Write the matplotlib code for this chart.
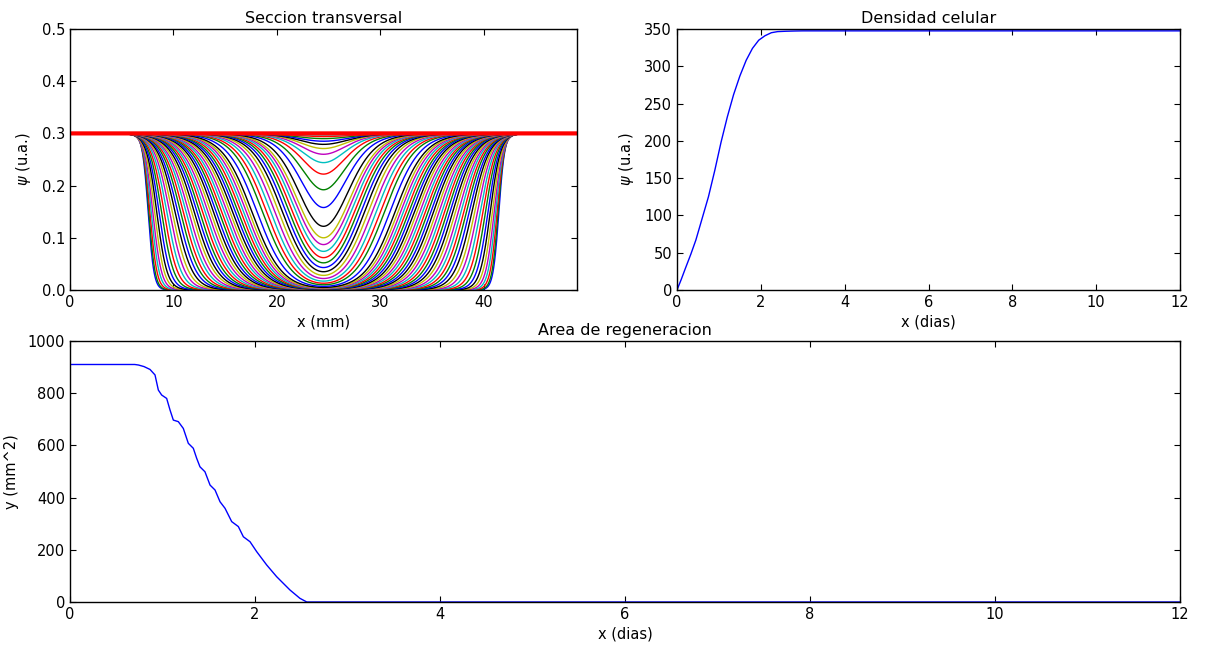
import numpy as np
import matplotlib
matplotlib.use("Agg")
import matplotlib.pyplot as plt

# ---------------- data ----------------
# Panel 1: cross-section profiles psi(x) at successive times
x_max_mm = 49.0
wound_center_mm = 24.5
saturation_level = 0.3
# half-height positions of the left front (mm) while the wound is still open
open_fronts = [7.55, 7.62, 7.72, 7.85, 8.0, 8.18, 8.38, 8.6, 8.84, 9.09, 9.35,
               9.62, 9.88, 10.15, 10.41, 10.68, 10.94, 11.21, 11.47, 11.74, 12.0,
               12.27, 12.53, 12.8, 13.06, 13.33, 13.59, 13.86, 14.12, 14.39, 14.65,
               14.92, 15.18, 15.45, 15.71, 15.98, 16.24, 16.51, 16.77, 17.04, 17.3]
open_widths = [0.28, 0.30, 0.34, 0.38, 0.42, 0.46, 0.50, 0.55, 0.60, 0.65, 0.70,
               0.75, 0.80, 0.85, 0.90, 0.94, 0.98, 1.02, 1.06, 1.10, 1.13,
               1.16, 1.19, 1.22, 1.25, 1.28, 1.30, 1.32, 1.34, 1.36, 1.38,
               1.40, 1.41, 1.42, 1.43, 1.44, 1.45, 1.45, 1.45, 1.45, 1.45]
# minimum value at the wound centre once the two fronts have met
center_minima = [0.005, 0.007, 0.010, 0.013, 0.017, 0.022, 0.028, 0.035, 0.043,
                 0.052, 0.062, 0.074, 0.087, 0.100, 0.122, 0.158, 0.192, 0.222,
                 0.244, 0.260, 0.271, 0.279, 0.285, 0.290, 0.294, 0.297]
merged_width = 1.45

# Panel 2: cell density vs time
dens_t = [0, 0.1, 0.2, 0.33, 0.45, 0.6, 0.75, 0.9, 1.05, 1.2, 1.35, 1.5, 1.65,
          1.8, 1.95, 2.1, 2.25, 2.4, 2.6, 2.8, 3.0, 12.0]
dens_v = [0, 14, 29, 48, 67, 96, 125, 160, 198, 232, 262, 287, 308,
          324, 335, 341, 345, 346.5, 347, 347.3, 347.5, 347.5]

# Panel 3: regeneration area vs time
area_t = [0, 0.70, 0.74, 0.80, 0.865, 0.919, 0.955, 0.991, 1.045, 1.081, 1.117,
          1.171, 1.225, 1.279, 1.333, 1.369, 1.405, 1.459, 1.514, 1.568, 1.622,
          1.676, 1.748, 1.82, 1.874, 1.946, 2.018, 2.126, 2.234, 2.378, 2.486,
          2.56, 12.0]
area_v = [910, 910, 908, 902, 891, 870, 812, 793, 780, 736, 697,
          691, 665, 608, 589, 551, 518, 499, 448, 429, 384,
          359, 308, 289, 250, 231, 193, 142, 97, 46, 14,
          0, 0]

# ---------------- style ----------------
plt.rcParams.update({
    "font.family": ["DejaVu Sans"],
    "font.size": 10.5,
    "xtick.direction": "in",
    "ytick.direction": "in",
    "xtick.top": True,
    "ytick.right": True,
    "xtick.major.size": 4,
    "ytick.major.size": 4,
    "axes.linewidth": 1.0,
    "axes.titlesize": 11.5,
    "axes.labelsize": 10.5,
})
cycle = [(0, 0, 1), (0, 0.5, 0), (1, 0, 0), (0, 0.75, 0.75),
         (0.75, 0, 0.75), (0.75, 0.75, 0), (0, 0, 0)]

W, H = 1210, 648
fig = plt.figure(figsize=(W / 100, H / 100), dpi=100)
ax1 = fig.add_axes([70 / W, 1 - 290 / H, 507 / W, 261 / H])
ax2 = fig.add_axes([677 / W, 1 - 290 / H, 503 / W, 261 / H])
ax3 = fig.add_axes([70 / W, 1 - 602 / H, 1110 / W, 261 / H])

# ---------------- panel 1 ----------------
def sig(z):
    return 1.0 / (1.0 + np.exp(-z))

xs = np.linspace(0, x_max_mm, 1200)
fronts = list(open_fronts)
widths = list(open_widths)
for m in center_minima:
    s = np.sqrt(1 - m / saturation_level)
    fronts.append(wound_center_mm - merged_width * np.log(s / (1 - s)))
    widths.append(merged_width)

for i, (pl, w) in enumerate(zip(fronts, widths)):
    pr = x_max_mm - pl
    inside = sig((xs - pl) / w) * sig((pr - xs) / w)
    ax1.plot(xs, saturation_level * (1 - inside), color=cycle[i % 7], lw=1.0)
ax1.plot(xs, np.full_like(xs, saturation_level), color="red", lw=3)
ax1.set_xlim(0, x_max_mm)
ax1.set_ylim(0, 0.5)
ax1.set_xticks([0, 10, 20, 30, 40])
ax1.set_yticks([0.0, 0.1, 0.2, 0.3, 0.4, 0.5])
ax1.set_title("Seccion transversal", pad=4)
ax1.set_xlabel("x (mm)", labelpad=3)
ax1.set_ylabel(r"$\psi$ (u.a.)", labelpad=6)

# ---------------- panel 2 ----------------
ax2.plot(dens_t, dens_v, color="blue", lw=1.0)
ax2.set_xlim(0, 12)
ax2.set_ylim(0, 350)
ax2.set_xticks(range(0, 13, 2))
ax2.set_yticks(range(0, 351, 50))
ax2.set_title("Densidad celular", pad=4)
ax2.set_xlabel("x (dias)", labelpad=3)
ax2.set_ylabel(r"$\psi$ (u.a.)", labelpad=6)

# ---------------- panel 3 ----------------
ax3.plot(area_t, area_v, color="blue", lw=1.0)
ax3.set_xlim(0, 12)
ax3.set_ylim(0, 1000)
ax3.set_xticks(range(0, 13, 2))
ax3.set_yticks(range(0, 1001, 200))
ax3.set_title("Area de regeneracion", pad=4)
ax3.set_xlabel("x (dias)", labelpad=3)
ax3.set_ylabel("y (mm^2)", labelpad=6)

fig.savefig("out.png", dpi=100, facecolor="white")
